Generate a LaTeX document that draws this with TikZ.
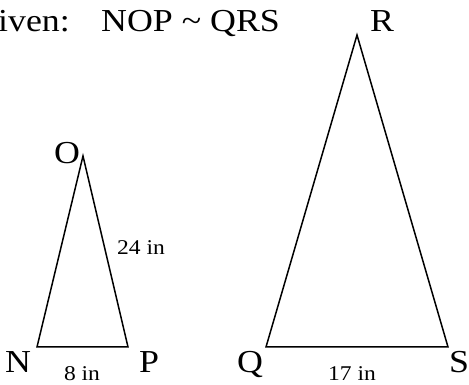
\documentclass[tikz,border=0pt]{standalone}
\usepackage{fontspec}
\setmainfont{Liberation Serif}
\usepackage{graphicx}
\usepackage{tikz}
\usetikzlibrary{positioning}
\newcommand{\wideTxt}[1]{\scalebox{1.12}[1]{#1}}
\tikzset{
  tri/.style={draw=black, line width=1.5pt, line join=miter},
  vtxLbl/.style={font=\fontsize{32}{36}\selectfont, anchor=base, inner sep=0pt},
  sideLbl/.style={font=\fontsize{21}{24}\selectfont, anchor=base, inner sep=0pt},
  givenLbl/.style={font=\fontsize{32}{36}\selectfont, inner sep=0pt},
}

\begin{document}
\begin{tikzpicture}[x=1pt, y=1pt]
\useasboundingbox (0,0) rectangle (469,385);

% ========== GIVEN ==========
\node[givenLbl, anchor=base east] (given) at (70, 353) {\wideTxt{Given:}};
\node[givenLbl, anchor=base west] (simText) at (101, 353) {\wideTxt{NOP \textasciitilde\ QRS}};

% ========== SMALL TRIANGLE NOP ==========
\coordinate (vN) at (37, 38);
\coordinate (vP) at (128, 38);
\coordinate (vO) at (83, 229);
\draw[tri] (vN) -- (vP) -- (vO) -- cycle;

\node[vtxLbl] (lN) at (18, 12) {\wideTxt{N}};
\node[vtxLbl] (lP) at (149, 12) {\wideTxt{P}};
\node[vtxLbl] (lO) at (67, 221) {\wideTxt{O}};
\node[sideLbl] (sNP) at (82, 4) {\wideTxt{8 in}};
\node[sideLbl, anchor=base west] (sOP) at (117, 130) {\wideTxt{24 in}};

% ========== LARGE TRIANGLE QRS ==========
\coordinate (vQ) at (266, 38);
\coordinate (vS) at (448, 38);
\coordinate (vR) at (357, 350);
\draw[tri] (vQ) -- (vS) -- (vR) -- cycle;

\node[vtxLbl] (lQ) at (250, 12) {\wideTxt{Q}};
\node[vtxLbl] (lS) at (459, 12) {\wideTxt{S}};
\node[vtxLbl] (lR) at (382, 353) {\wideTxt{R}};
\node[sideLbl] (sQS) at (352, 4) {\wideTxt{17 in}};

\end{tikzpicture}
\end{document}
